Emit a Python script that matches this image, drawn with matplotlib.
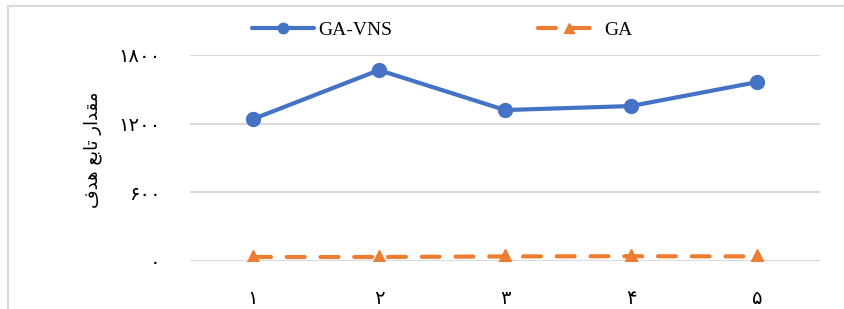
import matplotlib
matplotlib.use("Agg")
import matplotlib.pyplot as plt
from matplotlib.patches import Rectangle

categories = ["۱", "۲", "۳", "۴", "۵"]
ga_vns = [1240, 1668, 1319, 1354, 1563]
ga = [35, 35, 40, 42, 40]
yticks = [0, 600, 1200, 1800]
ytick_labels = ["۰", "۶۰۰", "۱۲۰۰", "۱۸۰۰"]
# "مقدار تابع هدف" shaped with presentation forms, visual order
ylabel = "\uFED1\uFEAA\uFEEB \uFECA\uFE91\uFE8E\uFE97 \uFEAD\uFE8D\uFEAA\uFED8\uFEE3"

blue = "#4472C4"
orange = "#ED7D31"
serif = ["Liberation Serif", "DejaVu Sans"]
arab = ["DejaVu Sans"]

W, H = 844, 309
fig = plt.figure(figsize=(W / 100, H / 100), dpi=100)
fig.patch.set_facecolor("white")
fig.patches.append(Rectangle((8 / W, -0.1), 1.2, 1 - 6 / H + 0.1, transform=fig.transFigure,
                             fill=False, edgecolor="#d9d9d9", linewidth=1.5))

left, right, top, bottom = 190, 820, 55, 261
ax = fig.add_axes([left / W, 1 - bottom / H, (right - left) / W, (bottom - top) / H])
x = list(range(len(categories)))

ax.plot(x, ga_vns, color=blue, linewidth=3, marker="o", markersize=10,
        solid_capstyle="round", label="GA-VNS", zorder=3)
ax.plot(x, ga, color=orange, linewidth=3, marker="^", markersize=10,
        linestyle=(0, (4.3, 3.8)), dash_capstyle="round", label="GA", zorder=3)

ax.set_xlim(-0.5, len(categories) - 0.5)
ax.set_ylim(0, 1800)
ax.set_yticks(yticks)
ax.set_yticklabels(ytick_labels, fontfamily=arab, fontsize=14)
ax.set_xticks(x)
ax.set_xticklabels(categories, fontfamily=arab, fontsize=14)
ax.tick_params(axis="both", length=0)
ax.tick_params(axis="y", pad=21)
ax.tick_params(axis="x", pad=20)
ax.grid(axis="y", color="#d9d9d9", linewidth=1.5)
ax.set_axisbelow(True)
for s in ax.spines.values():
    s.set_visible(False)
ax.patch.set_alpha(0)

fig.text(93 / W, 1 - 150 / H, ylabel, rotation=90, ha="center", va="center",
         fontfamily=arab, fontsize=13)

leg = fig.legend(loc="center", bbox_to_anchor=(442 / W, 1 - 30 / H), ncol=2, frameon=False,
                 prop={"family": serif, "size": 14}, handlelength=3.2, columnspacing=7.5,
                 handletextpad=0.2, markerscale=0.75)
plt.savefig("out.png", dpi=100)
